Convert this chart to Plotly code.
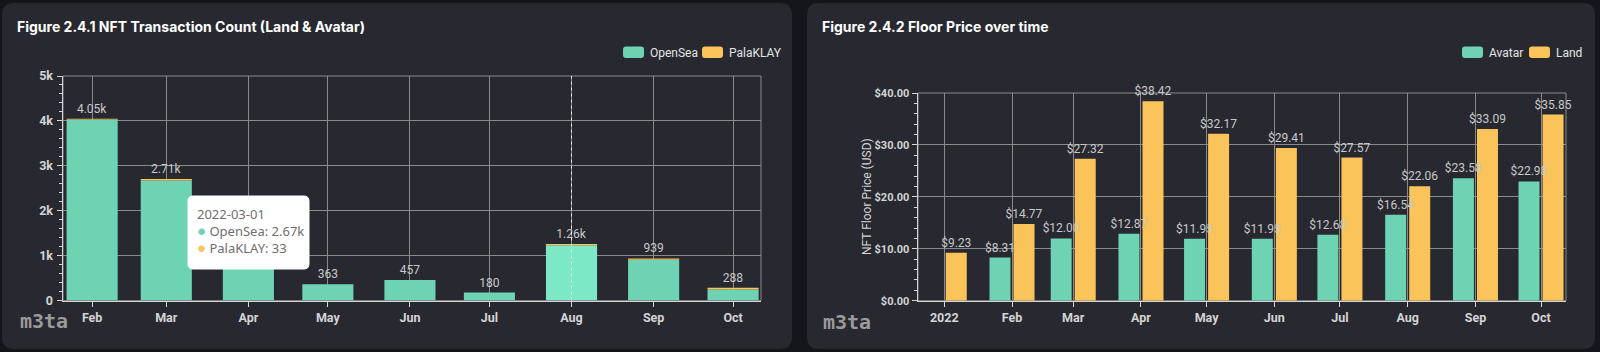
import plotly.graph_objects as go

W, H = 1600, 352

# ---------------- data ----------------
months_left = ["2022-02-01", "2022-03-01", "2022-04-01", "2022-05-01", "2022-06-01",
               "2022-07-01", "2022-08-01", "2022-09-01", "2022-10-01"]
month_labels_left = ["Feb", "Mar", "Apr", "May", "Jun", "Jul", "Aug", "Sep", "Oct"]
opensea = [4030, 2674, 1300, 363, 457, 180, 1230, 909, 248]
palaklay = [20, 33, 20, 0, 0, 0, 30, 30, 40]

months_right = ["2022-01-01", "2022-02-01", "2022-03-01", "2022-04-01", "2022-05-01",
                "2022-06-01", "2022-07-01", "2022-08-01", "2022-09-01", "2022-10-01"]
month_labels_right = ["<b>2022</b>", "Feb", "Mar", "Apr", "May", "Jun", "Jul", "Aug", "Sep", "Oct"]
avatar = [None, 8.31, 12.00, 12.87, 11.95, 11.95, 12.68, 16.54, 23.58, 22.98]
land = [9.23, 14.77, 27.32, 38.42, 32.17, 29.41, 27.57, 22.06, 33.09, 35.85]

GREEN = "#6dd3b3"
GREEN_HI = "#7ce8c5"
ORANGE = "#fbc45a"
PANEL = "#272830"
OUTER = "#15161a"
GRID = "#8a8a8a"
AXIS = "#d4d4d4"
LABEL = "#c9c9c9"
DAY = 86400000

HOVER_IDX = 1          # tooltip shown for Mar
HIDDEN_LABEL_IDX = 2   # Apr total label is covered by the tooltip in the reference


def fmt_total(v):
    return f"{v/1000:.2f}k" if v >= 1000 else str(v)


totals = [a + b for a, b in zip(opensea, palaklay)]
total_labels = ["" if i == HIDDEN_LABEL_IDX else fmt_total(t) for i, t in enumerate(totals)]


def px(x):
    return x / W


def py(y):
    return 1 - y / H


def rrect(x0, y0, x1, y1, r):
    pts = [
        f"M {px(x0 + r)},{py(y0)}", f"L {px(x1 - r)},{py(y0)}",
        f"Q {px(x1)},{py(y0)} {px(x1)},{py(y0 + r)}", f"L {px(x1)},{py(y1 - r)}",
        f"Q {px(x1)},{py(y1)} {px(x1 - r)},{py(y1)}", f"L {px(x0 + r)},{py(y1)}",
        f"Q {px(x0)},{py(y1)} {px(x0)},{py(y1 - r)}", f"L {px(x0)},{py(y0 + r)}",
        f"Q {px(x0)},{py(y0)} {px(x0 + r)},{py(y0)}", "Z",
    ]
    return " ".join(pts)


fig = go.Figure()

label_font = dict(color=LABEL, size=12, family="Roboto")

# ---------------- left chart (stacked) ----------------
os_colors = [GREEN_HI if m == "Aug" else GREEN for m in month_labels_left]
fig.add_trace(go.Bar(
    x=months_left, y=opensea, name="OpenSea", marker_color=os_colors,
    marker_line_width=0, width=19.3 * DAY, xaxis="x", yaxis="y",
    hoverinfo="skip", showlegend=False,
))
fig.add_trace(go.Bar(
    x=months_left, y=palaklay, base=opensea, name="PalaKLAY", marker_color=ORANGE,
    marker_line_width=0, width=19.3 * DAY, xaxis="x", yaxis="y",
    text=total_labels, textposition="outside", cliponaxis=False,
    constraintext="none", outsidetextfont=label_font,
    hoverinfo="skip", showlegend=False,
))

# ---------------- right chart (grouped) ----------------
bw = 9.6 * DAY
gap = 0.7 * DAY
series_right = [("Avatar", avatar, GREEN, -(bw + gap)), ("Land", land, ORANGE, gap)]
for name, vals, color, off in series_right:
    fig.add_trace(go.Bar(
        x=months_right, y=vals, name=name, marker_color=color, marker_line_width=0,
        width=bw, offset=off, xaxis="x2", yaxis="y2",
        hoverinfo="skip", showlegend=False,
    ))
# value labels drawn on top of all bars (transparent copies carrying the text)
for name, vals, color, off in series_right:
    fig.add_trace(go.Bar(
        x=months_right, y=vals, name=name + " labels", marker_color="rgba(0,0,0,0)",
        marker_line_width=0, width=bw, offset=off, xaxis="x2", yaxis="y2",
        texttemplate="$%{y:.2f}", textposition="outside", cliponaxis=False,
        constraintext="none", outsidetextfont=label_font,
        hoverinfo="skip", showlegend=False,
    ))

tickfont = dict(family="Roboto", size=12.5, color=AXIS, weight="bold")

common_x = dict(type="date", showgrid=True, gridcolor=GRID, gridwidth=1,
                showline=True, linecolor=AXIS, linewidth=1.5, ticks="outside",
                ticklen=5, tickcolor=AXIS, tickfont=tickfont, zeroline=False,
                automargin=False, fixedrange=True)
common_y = dict(showgrid=True, gridcolor=GRID, gridwidth=1, showline=True,
                linecolor=AXIS, linewidth=1.5, ticks="outside", ticklen=5,
                tickcolor=AXIS, tickfont=tickfont, zeroline=False, automargin=False,
                fixedrange=True)

fig.update_layout(
    width=W, height=H,
    margin=dict(l=0, r=0, t=0, b=0),
    paper_bgcolor=OUTER, plot_bgcolor="rgba(0,0,0,0)",
    barmode="overlay",
    font=dict(family="Roboto", color=AXIS),
    showlegend=False,
    xaxis=dict(common_x, domain=[px(63), px(761)], anchor="y",
               range=["2022-01-21", "2022-10-11 13:00"],
               tickvals=months_left, ticktext=month_labels_left),
    yaxis=dict(common_y, domain=[py(300.6), py(76)], anchor="x",
               range=[0, 5000], dtick=1000, tickformat="~s", ticklabelstandoff=1,
               minor=dict(ticks="outside", ticklen=3, dtick=200, tickcolor=AXIS, showgrid=False)),
    xaxis2=dict(common_x, domain=[px(918), px(1566)], anchor="y2",
                range=["2021-12-20", "2022-10-12 10:00"],
                tickvals=months_right, ticktext=month_labels_right),
    yaxis2=dict(common_y, domain=[py(300.7), py(93)], anchor="x2",
                range=[0, 40], dtick=10, tickprefix="$", tickformat=".2f", ticklabelstandoff=0,
                tickfont=dict(family="Roboto", size=11, color=AXIS, weight="bold"),
                minor=dict(ticks="outside", ticklen=3, dtick=2, tickcolor=AXIS, showgrid=False)),
)

shapes = [
    dict(type="path", path=rrect(2, 3, 792, 349, 12), xref="paper", yref="paper",
         fillcolor=PANEL, line=dict(width=0), layer="below"),
    dict(type="path", path=rrect(807, 3, 1595, 349, 12), xref="paper", yref="paper",
         fillcolor=PANEL, line=dict(width=0), layer="below"),
    # plot borders (top/right)
    dict(type="rect", xref="x domain", yref="y domain", x0=0, x1=1, y0=0, y1=1,
         line=dict(color=GRID, width=1), layer="below"),
    dict(type="rect", xref="x2 domain", yref="y2 domain", x0=0, x1=1, y0=0, y1=1,
         line=dict(color=GRID, width=1), layer="below"),
    # hover crosshair at Aug
    dict(type="line", xref="x", yref="y domain", x0=months_left[6], x1=months_left[6],
         y0=0, y1=1, line=dict(color="#e6e6e6", width=1, dash="3px,3px"), layer="above"),
    # tooltip box
    dict(type="path", path=rrect(188, 196, 309, 269, 5), xref="paper", yref="paper",
         fillcolor="#ffffff", line=dict(color="#ffffff", width=1), layer="above"),
]

annotations = [
    dict(text="<b>Figure 2.4.1 NFT Transaction Count (Land & Avatar)</b>", x=px(15), y=py(27),
         xref="paper", yref="paper", xanchor="left", yanchor="middle", showarrow=False,
         font=dict(family="Inter", size=14, color="#ffffff")),
    dict(text="<b>Figure 2.4.2 Floor Price over time</b>", x=px(820), y=py(27),
         xref="paper", yref="paper", xanchor="left", yanchor="middle", showarrow=False,
         font=dict(family="Inter", size=14, color="#ffffff")),
    dict(text="NFT Floor Price (USD)", textangle=-90, x=px(867), y=py(197),
         xref="paper", yref="paper", xanchor="center", yanchor="middle", showarrow=False,
         font=dict(family="Roboto", size=12, color=AXIS)),
    dict(text="<b>m3ta</b>", x=px(18), y=py(321), xref="paper", yref="paper",
         xanchor="left", yanchor="middle", showarrow=False,
         font=dict(family="DejaVu Sans Mono", size=20, color="#9a9a9a")),
    dict(text="<b>m3ta</b>", x=px(821), y=py(322), xref="paper", yref="paper",
         xanchor="left", yanchor="middle", showarrow=False,
         font=dict(family="DejaVu Sans Mono", size=20, color="#9a9a9a")),
    dict(text=(f"{months_left[HOVER_IDX]}<br>"
               f"<span style='color:{GREEN};font-size:15px'>●</span> OpenSea: {opensea[HOVER_IDX]/1000:.2f}k<br>"
               f"<span style='color:{ORANGE};font-size:15px'>●</span> PalaKLAY: {palaklay[HOVER_IDX]}"),
         x=px(195), y=py(203), xref="paper", yref="paper", xanchor="left", yanchor="top",
         align="left", showarrow=False,
         font=dict(family="Noto Sans", size=13, color="#6e6e6e")),
]

# custom legends (rounded swatches like the reference)
legend_items = [
    ("OpenSea", GREEN, 623), ("PalaKLAY", ORANGE, 702),
    ("Avatar", GREEN, 1462), ("Land", ORANGE, 1529),
]
for name, color, x0 in legend_items:
    shapes.append(dict(type="path", path=rrect(x0, 46.5, x0 + 21, 58, 3), xref="paper",
                       yref="paper", fillcolor=color, line=dict(width=0), layer="above"))
    annotations.append(dict(text=name, x=px(x0 + 25), y=py(52.5), xref="paper", yref="paper",
                            xanchor="left", yanchor="middle", showarrow=False,
                            font=dict(family="Roboto", size=12, color="#e4e4e4")))

fig.update_layout(shapes=shapes, annotations=annotations)

fig.write_html("out.html", config=dict(displayModeBar=False, staticPlot=True))
